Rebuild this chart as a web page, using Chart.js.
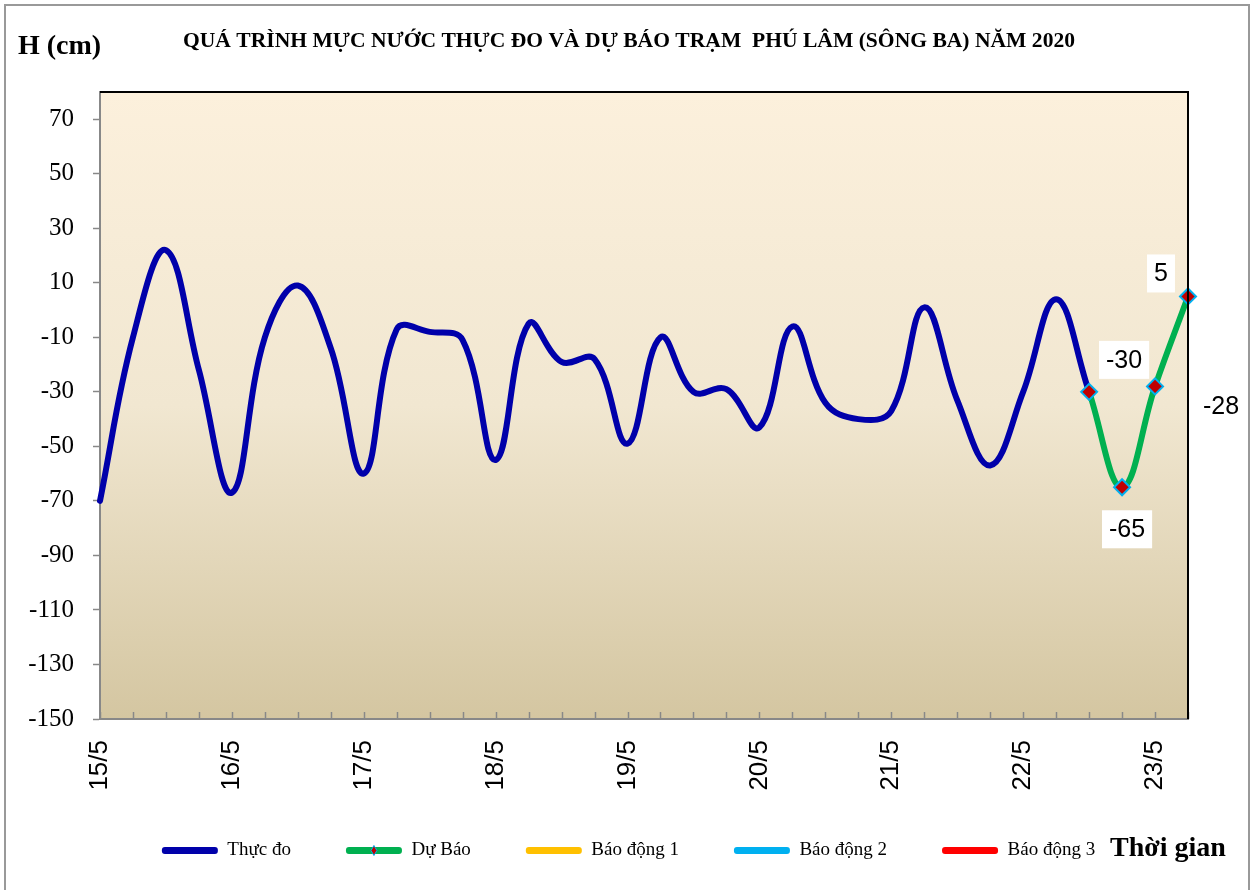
<!DOCTYPE html>
<html><head><meta charset="utf-8">
<script src="https://cdn.jsdelivr.net/npm/chart.js@4/dist/chart.umd.min.js"></script>
<style>html,body{margin:0;padding:0;background:#fff}#wrap{width:1257px;height:890px;position:relative}</style>
</head><body><div id="wrap"><canvas id="c" width="1257" height="890"></canvas></div>
<script>
// ---- data ----
const days = ['15/5','16/5','17/5','18/5','19/5','20/5','21/5','22/5','23/5'];
const hours = ['00h','06h','12h','18h'];
const categories = [];
const tickLabels = [];
days.forEach(d => hours.forEach((h, k) => { categories.push(d + ' ' + h); tickLabels.push(k === 0 ? d : ''); }));
categories.length = 34; tickLabels.length = 34;

const thucDo = [-70,-10,22,-22,-67,-10,9,-14,-60,-7,-8,-11,-55,-5,-19,-18,-49,-10,-30,-29,-43,-6,-34,-40,-37,1,-33,-57,-30,4,-30];
const duBao = [-30,-65,-28,5];
const duBaoStart = 30;
const yTicks = [-150,-130,-110,-90,-70,-50,-30,-10,10,30,50,70];
const seriesNames = ['Thực đo','Dự Báo','Báo động 1','Báo động 2','Báo động 3'];
const seriesColors = ['#0000AA','#00B050','#FFC000','#00B0F0','#FF0000'];

const thucDoData = categories.map((c,i) => i < thucDo.length ? thucDo[i] : null);
const duBaoData = categories.map((c,i) => (i >= duBaoStart && i - duBaoStart < duBao.length) ? duBao[i - duBaoStart] : null);
const emptyData = categories.map(() => null);

const labelOffsets = [[35,-32],[5,42],[66,20],[-27,-23]];

const SERIF = "'Liberation Serif','Times New Roman',serif";
const SANS = "'Liberation Sans',Arial,sans-serif";

const decor = {
  id: 'decor',
  beforeDraw(chart) {
    // let rotated x labels extend below the axis box
    if (chart.scales.x) chart.scales.x._computeLabelArea = () => undefined;
    const ctx = chart.ctx, a = chart.chartArea;
    ctx.save();
    ctx.fillStyle = '#fff';
    ctx.fillRect(0, 0, chart.width, chart.height);
    const g = ctx.createLinearGradient(0, a.top, 0, a.bottom);
    g.addColorStop(0, '#FCF0DC');
    g.addColorStop(0.5, '#F1E7D1');
    g.addColorStop(1, '#D4C6A1');
    ctx.fillStyle = g;
    ctx.fillRect(a.left, a.top, a.right - a.left, a.bottom - a.top);
    ctx.restore();
  },
  afterDatasetsDraw(chart) {
    const ctx = chart.ctx;
    const meta = chart.getDatasetMeta(1);
    ctx.save();
    ctx.font = '25px ' + SANS;
    ctx.textAlign = 'center';
    ctx.textBaseline = 'middle';
    duBao.forEach((v, k) => {
      const p = meta.data[duBaoStart + k];
      const off = labelOffsets[k];
      const x = p.x + off[0], y = p.y + off[1];
      const t = String(v);
      const w = ctx.measureText(t).width + 14, h = 38;
      ctx.fillStyle = '#fff';
      ctx.fillRect(x - w/2, y - h/2, w, h);
      ctx.fillStyle = '#000';
      ctx.fillText(t, x, y + 1);
    });
    ctx.restore();
  },
  afterDraw(chart) {
    const ctx = chart.ctx, a = chart.chartArea;
    const xs = chart.scales.x;
    ctx.save();
    // inward x ticks
    ctx.strokeStyle = '#888'; ctx.lineWidth = 1.5;
    for (let i = 0; i < categories.length; i++) {
      const x = Math.round(xs.getPixelForValue(i)) + 0.5;
      ctx.beginPath(); ctx.moveTo(x, a.bottom); ctx.lineTo(x, a.bottom - 7); ctx.stroke();
    }
    // plot frame top/right
    ctx.strokeStyle = '#000'; ctx.lineWidth = 2;
    ctx.beginPath(); ctx.moveTo(a.left, a.top); ctx.lineTo(a.right, a.top); ctx.lineTo(a.right, a.bottom); ctx.stroke();
    // outer frame
    ctx.strokeStyle = '#999'; ctx.lineWidth = 2;
    ctx.strokeRect(5, 5, 1244, 900);
    // title
    ctx.fillStyle = '#000';
    ctx.textBaseline = 'middle';
    ctx.textAlign = 'center';
    ctx.font = 'bold 22px ' + SERIF;
    ctx.fillText('QUÁ TRÌNH MỰC NƯỚC THỰC ĐO VÀ DỰ BÁO TRẠM  PHÚ LÂM (SÔNG BA) NĂM 2020', 629, 41, 892);
    ctx.textAlign = 'left';
    ctx.font = 'bold 28px ' + SERIF;
    ctx.fillText('H (cm)', 18, 47);
    ctx.fillText('Thời gian', 1110, 849);
    // legend marker for Dự Báo
    const lg = chart.legend;
    if (lg && lg.legendHitBoxes && lg.legendHitBoxes[1]) {
      const b = lg.legendHitBoxes[1];
      const cx = b.left + 28, cy = b.top + b.height / 2;
      ctx.beginPath();
      ctx.moveTo(cx, cy - 5); ctx.lineTo(cx + 3, cy); ctx.lineTo(cx, cy + 5); ctx.lineTo(cx - 3, cy); ctx.closePath();
      ctx.fillStyle = '#C00000'; ctx.fill();
      ctx.strokeStyle = '#00B0F0'; ctx.lineWidth = 1; ctx.stroke();
    }
    ctx.restore();
  }
};

new Chart(document.getElementById('c'), {
  type: 'line',
  data: {
    labels: categories,
    datasets: [
      { label: seriesNames[0], data: thucDoData, borderColor: seriesColors[0], backgroundColor: seriesColors[0], borderWidth: 6, pointRadius: 0, tension: 0.4, fill: false, order: 1, borderCapStyle: 'round' },
      { label: seriesNames[1], data: duBaoData, borderColor: seriesColors[1], backgroundColor: seriesColors[1], borderWidth: 6, tension: 0.4, fill: false, order: 0, clip: false,
        pointStyle: 'rectRot', pointRadius: 8, pointBackgroundColor: '#C00000', pointBorderColor: '#00B0F0', pointBorderWidth: 2 },
      { label: seriesNames[2], data: emptyData, borderColor: seriesColors[2], backgroundColor: seriesColors[2], borderWidth: 6, pointRadius: 0 },
      { label: seriesNames[3], data: emptyData, borderColor: seriesColors[3], backgroundColor: seriesColors[3], borderWidth: 6, pointRadius: 0 },
      { label: seriesNames[4], data: emptyData, borderColor: seriesColors[4], backgroundColor: seriesColors[4], borderWidth: 6, pointRadius: 0 }
    ]
  },
  options: {
    responsive: false,
    animation: false,
    devicePixelRatio: 1,
    spanGaps: false,
    layout: { padding: { top: 92, left: 0, right: 0, bottom: 20 } },
    plugins: {
      title: { display: false },
      tooltip: { enabled: false },
      legend: {
        position: 'bottom',
        labels: {
          font: { family: SERIF, size: 19 },
          color: '#000',
          boxWidth: 56,
          boxHeight: 7,
          padding: 55,
          useBorderRadius: true,
          borderRadius: 3,
          generateLabels(chart) {
            return chart.data.datasets.map((ds, i) => ({
              text: ds.label, fillStyle: ds.borderColor, strokeStyle: ds.borderColor, lineWidth: 0,
              hidden: false, datasetIndex: i, fontColor: '#000', borderRadius: 3
            }));
          }
        }
      }
    },
    scales: {
      x: {
        type: 'category',
        offset: false,
        grid: { drawOnChartArea: false, drawTicks: false },
        border: { color: '#888', width: 2 },
        ticks: {
          autoSkip: false, maxRotation: 90, minRotation: 90, padding: 21,
          font: { family: SANS, size: 26 }, color: '#000',
          callback: (v, i) => tickLabels[i]
        },
        afterFit(s) { s.height = 67; }
      },
      y: {
        type: 'linear',
        min: -150, max: 80,
        grid: { drawOnChartArea: false, drawTicks: true, tickLength: 7, tickColor: '#888', tickWidth: 1.5 },
        border: { color: '#888', width: 2 },
        ticks: { padding: 19, font: { family: SERIF, size: 25 }, color: '#000' },
        afterBuildTicks(s) { s.ticks = yTicks.map(v => ({ value: v })); },
        afterFit(s) { s.width = 100; }
      },
      y2: {
        type: 'linear', position: 'right', display: true,
        grid: { display: false }, border: { display: false },
        ticks: { display: false },
        afterFit(s) { s.width = 69; }
      }
    }
  },
  plugins: [decor]
});
</script></body></html>
